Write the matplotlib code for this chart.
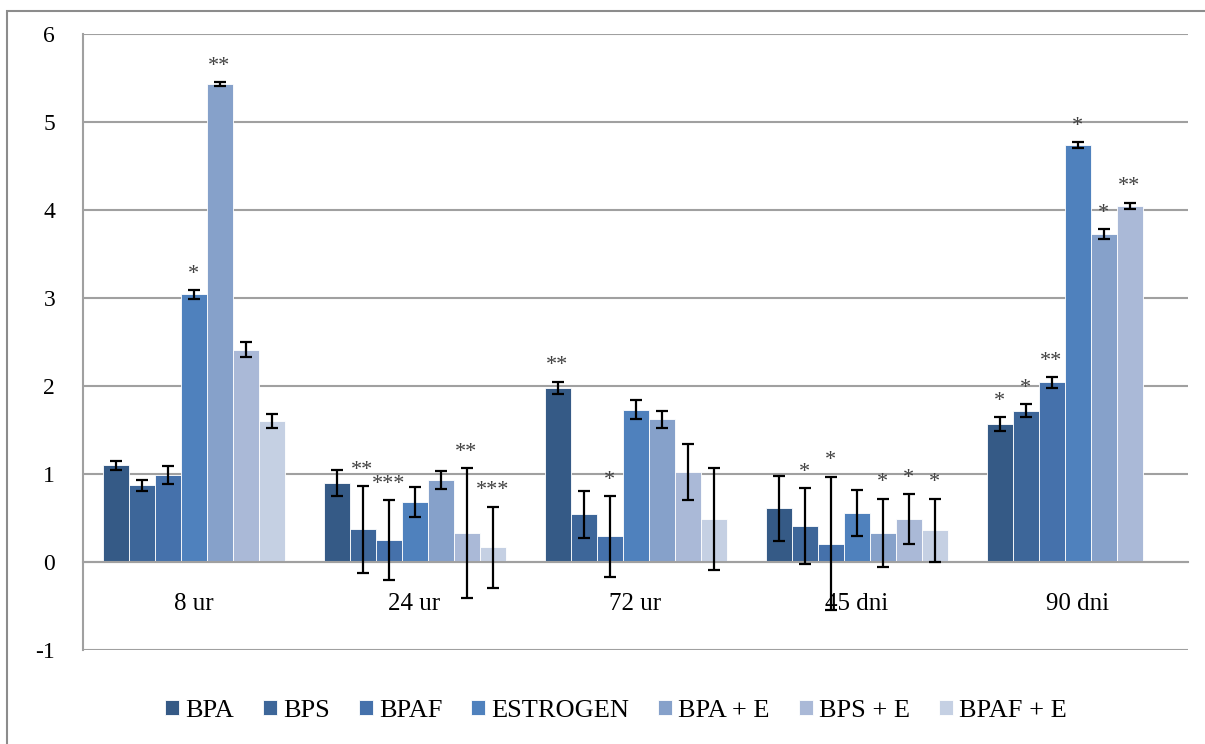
import numpy as np
import matplotlib
matplotlib.use("Agg")
import matplotlib.pyplot as plt
from matplotlib.patches import Rectangle

categories = ["8 ur", "24 ur", "72 ur", "45 dni", "90 dni"]
series = ["BPA", "BPS", "BPAF", "ESTROGEN", "BPA + E", "BPS + E", "BPAF + E"]

BPA      = [1.10, 0.90, 1.98, 0.61, 1.57]
BPS      = [0.87, 0.37, 0.54, 0.41, 1.72]
BPAF     = [0.99, 0.25, 0.29, 0.21, 2.04]
ESTROGEN = [3.04, 0.68, 1.73, 0.56, 4.74]
BPA_E    = [5.43, 0.93, 1.62, 0.33, 3.73]
BPS_E    = [2.41, 0.33, 1.02, 0.49, 4.05]
BPAF_E   = [1.60, 0.17, 0.49, 0.36, np.nan]

BPA_err      = [0.05, 0.15, 0.07, 0.37, 0.08]
BPS_err      = [0.065, 0.49, 0.27, 0.43, 0.07]
BPAF_err     = [0.10, 0.45, 0.46, 0.76, 0.06]
ESTROGEN_err = [0.05, 0.17, 0.11, 0.26, 0.035]
BPA_E_err    = [0.02, 0.10, 0.10, 0.39, 0.055]
BPS_E_err    = [0.085, 0.74, 0.32, 0.28, 0.035]
BPAF_E_err   = [0.08, 0.46, 0.58, 0.36, np.nan]

BPA_sig      = ["", "", "**", "", "*"]
BPS_sig      = ["", "**", "", "*", "*"]
BPAF_sig     = ["", "***", "*", "*", "**"]
ESTROGEN_sig = ["*", "", "", "", "*"]
BPA_E_sig    = ["**", "", "", "*", "*"]
BPS_E_sig    = ["", "**", "", "*", "**"]
BPAF_E_sig   = ["", "***", "", "*", ""]

values = [BPA, BPS, BPAF, ESTROGEN, BPA_E, BPS_E, BPAF_E]
errors = [BPA_err, BPS_err, BPAF_err, ESTROGEN_err, BPA_E_err, BPS_E_err, BPAF_E_err]
sigs = [BPA_sig, BPS_sig, BPAF_sig, ESTROGEN_sig, BPA_E_sig, BPS_E_sig, BPAF_E_sig]

colors = ["#355a86", "#3d6699", "#4571ab", "#4f81bd", "#86a1ca", "#aab9d7", "#c5d0e3"]

plt.rcParams['font.family'] = ['Liberation Serif', 'DejaVu Serif']
plt.rcParams['axes.unicode_minus'] = False

fig = plt.figure(figsize=(12.05, 7.44), dpi=100)
ax = fig.add_axes([83/1205, 1-650/744, (1188-83)/1205, (650-34)/744])

# outer chart border
fig.patches.append(Rectangle((7/1205, -0.05), 1.2, 1-11/744+0.05,
                             transform=fig.transFigure, fill=False,
                             edgecolor="#8c8c8c", linewidth=1.5))

gray = "#a0a0a0"
for s in ['top', 'right']:
    ax.spines[s].set_visible(False)
ax.spines['bottom'].set_position(('data', 0))
ax.spines['bottom'].set_color(gray)
ax.spines['bottom'].set_linewidth(1.5)
ax.spines['bottom'].set_zorder(3.5)
ax.spines['left'].set_color(gray)
ax.spines['left'].set_linewidth(1.5)

n = len(series)
w = 1/(n+1.5)
x = np.arange(len(categories))

for i, (vals, errs, sg, c, name) in enumerate(zip(values, errors, sigs, colors, series)):
    pos = x + (i - (n-1)/2) * w
    ax.bar(pos, vals, width=w, color=c, edgecolor="#ffffff", linewidth=0.6,
           label=name, zorder=3)
    ax.errorbar(pos, vals, yerr=errs, fmt='none', ecolor='black',
                elinewidth=1.6, capsize=4.5, capthick=1.6, zorder=4)
    for p, v, e, s in zip(pos, vals, errs, sg):
        if s and not np.isnan(v):
            ax.annotate(s, (p, v + e), xytext=(0, 4.5), textcoords='offset points',
                        ha='center', va='bottom', fontsize=16, color='#404040',
                        zorder=5)

ax.set_xlim(-0.5, len(categories) - 0.5)
ax.set_ylim(-1, 6)
ax.set_yticks(range(-1, 7))
ax.set_xticks(x)
ax.set_xticklabels(categories)
ax.tick_params(axis='x', length=0, pad=22, labelsize=18)
ax.tick_params(axis='y', length=0, pad=20, labelsize=17)

ax.grid(axis='y', color=gray, linewidth=1.5, zorder=0)
ax.set_axisbelow(True)

leg = fig.legend(loc='center', bbox_to_anchor=(616/1205, 1-711/744), ncol=7,
                 frameon=False, fontsize=19, handlelength=0.53, handleheight=0.53,
                 handletextpad=0.23, columnspacing=1.1)

fig.savefig("out.png", dpi=100)
